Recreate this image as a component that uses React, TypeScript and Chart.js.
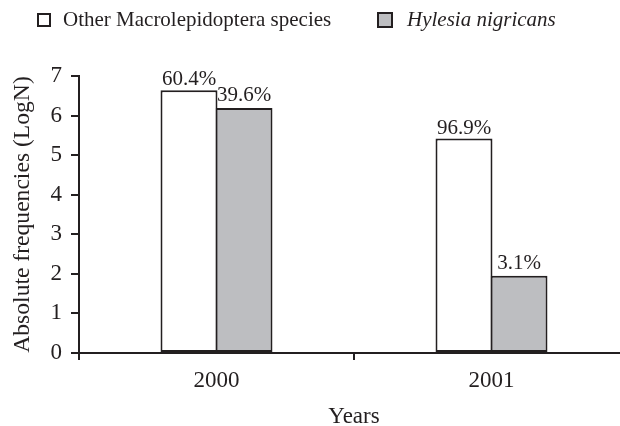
import React, { useEffect, useRef } from "react";
import { Chart, registerables } from "chart.js";

Chart.register(...registerables);

const categories = ["2000", "2001"];
const seriesNames = ["Other Macrolepidoptera species", "Hylesia nigricans"];
const otherValues = [6.64, 5.42];
const hylesiaValues = [6.19, 1.95];
const otherPct = ["60.4%", "96.9%"];
const hylesiaPct = ["39.6%", "3.1%"];
const yTicks = [0, 1, 2, 3, 4, 5, 6, 7];

const INK = "#231f20";
const GRAY = "#bdbec1";
const FONT = "'Liberation Serif', 'Times New Roman', serif";

const pctLabels = {
  id: "pctLabels",
  afterDatasetsDraw(chart: any) {
    const ctx = chart.ctx;
    const lists = [otherPct, hylesiaPct];
    ctx.save();
    ctx.font = `21px ${FONT}`;
    ctx.fillStyle = INK;
    ctx.textAlign = "center";
    ctx.textBaseline = "alphabetic";
    chart.data.datasets.forEach((_: any, di: number) => {
      const meta = chart.getDatasetMeta(di);
      meta.data.forEach((bar: any, i: number) => {
        ctx.fillText(lists[di][i], bar.x, bar.y - (di === 0 ? 5 : 7));
      });
    });
    ctx.restore();
  },
};

const customLegend = {
  id: "customLegend",
  afterDraw(chart: any) {
    const ctx = chart.ctx;
    const ds = chart.data.datasets;
    ctx.save();
    ctx.lineWidth = 2;
    ctx.strokeStyle = INK;
    ctx.fillStyle = ds[0].backgroundColor;
    ctx.fillRect(38, 14, 12, 12);
    ctx.strokeRect(38, 14, 12, 12);
    ctx.fillStyle = INK;
    ctx.font = `21px ${FONT}`;
    ctx.textBaseline = "alphabetic";
    ctx.textAlign = "left";
    ctx.fillText(ds[0].label, 63, 26);
    ctx.fillStyle = ds[1].backgroundColor;
    ctx.fillRect(378, 13, 14, 14);
    ctx.strokeRect(378, 13, 14, 14);
    ctx.fillStyle = INK;
    ctx.font = `italic 21px ${FONT}`;
    ctx.fillText(ds[1].label, 407, 26);
    ctx.restore();
  },
};

export default function App() {
  const ref = useRef<HTMLCanvasElement | null>(null);
  useEffect(() => {
    if (!ref.current) return;
    const chart = new Chart(ref.current, {
      type: "bar",
      data: {
        labels: categories,
        datasets: [
          {
            label: seriesNames[0],
            data: otherValues,
            backgroundColor: "#ffffff",
            borderColor: INK,
            borderWidth: 2,
            borderSkipped: false,
            categoryPercentage: 0.4,
            barPercentage: 1.036,
          },
          {
            label: seriesNames[1],
            data: hylesiaValues,
            backgroundColor: GRAY,
            borderColor: INK,
            borderWidth: 2,
            borderSkipped: false,
            categoryPercentage: 0.4,
            barPercentage: 1.036,
          },
        ],
      },
      options: {
        responsive: false,
        animation: false,
        layout: { padding: { top: 76, left: 0, right: 11, bottom: 0 } },
        plugins: {
          legend: { display: false },
          tooltip: { enabled: false },
        },
        scales: {
          x: {
            offset: true,
            grid: {
              drawOnChartArea: false,
              drawTicks: true,
              tickLength: 7,
              color: INK,
              lineWidth: 2,
            },
            border: { color: INK, width: 2 },
            ticks: { color: INK, font: { family: FONT, size: 23 }, padding: 7 },
            title: {
              display: true,
              text: "Years",
              color: INK,
              font: { family: FONT, size: 23 },
              padding: { top: 0, bottom: 1 },
            },
            afterFit(scale: any) {
              scale.height = 79;
            },
          },
          y: {
            min: yTicks[0],
            max: yTicks[yTicks.length - 1],
            afterBuildTicks(scale: any) {
              scale.ticks = yTicks.map((v) => ({ value: v }));
            },
            grid: {
              drawOnChartArea: false,
              drawTicks: true,
              tickLength: 8,
              color: INK,
              lineWidth: 2,
            },
            border: { color: INK, width: 2 },
            ticks: { color: INK, font: { family: FONT, size: 23 }, padding: 9 },
            title: {
              display: true,
              text: "Absolute frequencies (LogN)",
              color: INK,
              font: { family: FONT, size: 23.6 },
              padding: { top: 9, bottom: 0 },
            },
            afterFit(scale: any) {
              scale.width = 79;
            },
          },
        },
      },
      plugins: [pctLabels, customLegend],
    });
    return () => chart.destroy();
  }, []);
  return (
    <div
      style={{
        position: "fixed",
        left: 0,
        top: 0,
        width: 620,
        height: 426,
        overflow: "hidden",
        background: "#ffffff",
      }}
    >
      <canvas ref={ref} width={640} height={432} style={{ width: 640, height: 432, display: "block" }} />
    </div>
  );
}
